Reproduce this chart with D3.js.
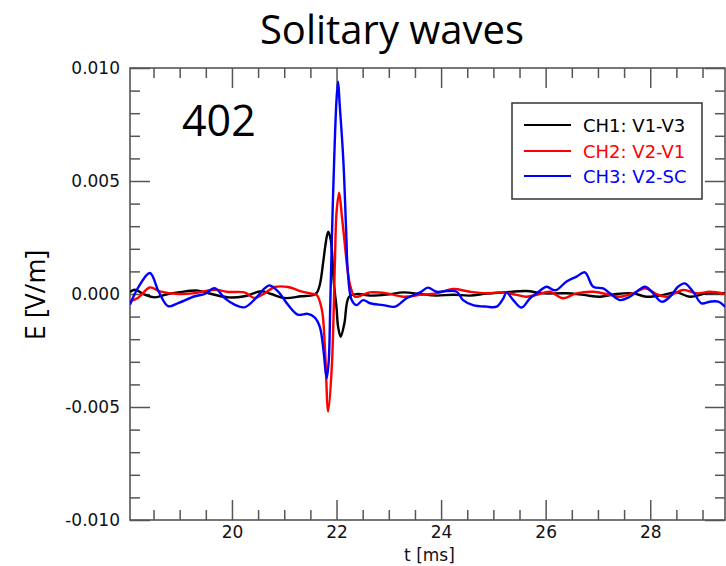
<!DOCTYPE html>
<html>
<head>
<meta charset="utf-8">
<script src="https://cdn.jsdelivr.net/npm/d3@7.9.0/dist/d3.min.js"></script>
<style>
  body { margin: 0; background: #fff; }
</style>
</head>
<body>
<div id="chart"></div>
<script>
// [t (ms), E (V/m)]
const ch1 = [[18.05,0.00009],[18.14,0.00019],[18.33,-0.00003],[18.52,-0.00015],[18.78,0.00000],[18.97,0.00007],[19.35,0.00015],[19.61,0.00000],[19.93,-0.00015],[20.24,-0.00010],[20.56,0.00012],[20.75,0.00000],[21.01,-0.00018],[21.32,-0.00010],[21.55,-0.00005],[21.62,0.00005],[21.68,0.00040],[21.75,0.00150],[21.79,0.00220],[21.84,0.00276],[21.89,0.00239],[21.95,0.00047],[22.00,-0.00060],[22.03,-0.00145],[22.08,-0.00189],[22.15,-0.00130],[22.24,-0.00012],[22.40,0.00000],[22.64,-0.00007],[22.96,-0.00003],[23.28,0.00007],[23.60,0.00000],[23.91,-0.00007],[24.23,-0.00003],[24.55,-0.00007],[24.87,0.00002],[25.19,0.00007],[25.63,0.00013],[25.95,0.00003],[26.40,0.00003],[26.72,-0.00004],[27.04,-0.00012],[27.35,0.00000],[27.67,0.00003],[27.93,-0.00012],[28.25,-0.00004],[28.50,0.00007],[28.76,-0.00012],[29.08,0.00003],[29.43,0.00003]];

const ch2 = [[18.05,-0.00032],[18.20,-0.00018],[18.43,0.00029],[18.62,0.00012],[18.97,0.00000],[19.29,0.00004],[19.67,0.00019],[19.93,0.00009],[20.24,0.00007],[20.43,-0.00018],[20.63,0.00004],[20.82,0.00031],[21.07,0.00031],[21.32,0.00012],[21.55,0.00000],[21.62,-0.00004],[21.72,-0.00070],[21.78,-0.00248],[21.84,-0.00520],[21.91,-0.00320],[21.97,0.00150],[22.00,0.00360],[22.05,0.00448],[22.10,0.00350],[22.15,0.00239],[22.22,0.00090],[22.27,0.00030],[22.35,-0.00012],[22.50,-0.00004],[22.64,0.00007],[22.96,0.00003],[23.28,-0.00012],[23.60,-0.00004],[23.91,0.00003],[24.23,0.00022],[24.55,0.00010],[24.87,0.00003],[25.19,0.00007],[25.44,-0.00004],[25.63,-0.00012],[25.83,-0.00004],[26.08,0.00010],[26.33,-0.00019],[26.59,0.00003],[26.91,0.00010],[27.23,-0.00004],[27.42,-0.00012],[27.67,0.00003],[27.90,0.00025],[28.12,0.00000],[28.31,-0.00012],[28.63,0.00018],[28.89,0.00003],[29.14,0.00010],[29.43,0.00000]];

const ch3 = [[18.05,-0.00047],[18.20,0.00026],[18.43,0.00093],[18.60,0.00010],[18.78,-0.00054],[18.97,-0.00040],[19.29,-0.00010],[19.48,0.00000],[19.67,0.00026],[19.86,-0.00018],[20.05,-0.00047],[20.24,-0.00059],[20.43,-0.00025],[20.63,0.00026],[20.72,0.00038],[20.88,0.00012],[21.07,-0.00047],[21.26,-0.00091],[21.45,-0.00088],[21.58,-0.00103],[21.68,-0.00145],[21.75,-0.00248],[21.81,-0.00373],[21.85,-0.00300],[21.88,-0.00050],[21.91,0.00240],[21.955,0.00593],[22.00,0.00860],[22.03,0.00939],[22.06,0.00840],[22.13,0.00593],[22.19,0.00239],[22.21,0.00120],[22.29,-0.00027],[22.38,-0.00049],[22.51,-0.00027],[22.64,-0.00041],[22.89,-0.00049],[23.12,-0.00056],[23.34,-0.00019],[23.60,0.00007],[23.75,0.00028],[23.91,0.00010],[24.11,0.00013],[24.30,0.00010],[24.42,-0.00027],[24.61,-0.00049],[24.87,-0.00056],[25.06,-0.00056],[25.19,-0.00019],[25.25,0.00007],[25.38,-0.00027],[25.54,-0.00060],[25.70,-0.00019],[25.83,0.00003],[26.02,0.00032],[26.14,0.00018],[26.21,0.00018],[26.40,0.00055],[26.59,0.00077],[26.75,0.00096],[26.91,0.00032],[27.10,0.00025],[27.23,0.00003],[27.42,-0.00027],[27.61,-0.00012],[27.90,0.00032],[28.03,0.00010],[28.22,-0.00034],[28.38,-0.00012],[28.53,0.00032],[28.66,0.00047],[28.82,0.00010],[28.98,-0.00041],[29.14,-0.00034],[29.30,-0.00034],[29.43,-0.00056]];

const seriesNames = ["CH1: V1-V3", "CH2: V2-V1", "CH3: V2-SC"];
const seriesColors = ["#000000", "#ff0000", "#0000ff"];

const xDomain = [18.05, 29.43];
const yDomain = [-0.010, 0.010];
const xMajor = [20, 22, 24, 26, 28];
const xMinor = [18.5, 19, 19.5, 20.5, 21, 21.5, 22.5, 23, 23.5, 24.5, 25, 25.5, 26.5, 27, 27.5, 28.5, 29];
const yMajor = [-0.010, -0.005, 0, 0.005, 0.010];
const yTickLabels = ["-0.010", "-0.005", "0.000", "0.005", "0.010"];
const yMinor = [-0.009, -0.008, -0.007, -0.006, -0.004, -0.003, -0.002, -0.001,
                0.001, 0.002, 0.003, 0.004, 0.006, 0.007, 0.008, 0.009];

const width = 726, height = 566;
const plotLeft = 130, plotRight = 725, plotTop = 68, plotBottom = 520;

const svg = d3.select("#chart").append("svg")
    .attr("width", width)
    .attr("height", height);

const x = d3.scaleLinear().domain(xDomain).range([plotLeft, plotRight]);
const y = d3.scaleLinear().domain(yDomain).range([plotBottom, plotTop]);

// clip the traces to the frame
svg.append("clipPath").attr("id", "plot-clip")
  .append("rect")
    .attr("x", plotLeft).attr("y", plotTop)
    .attr("width", plotRight - plotLeft).attr("height", plotBottom - plotTop);

const axisColor = "#555";
const tickFont = "DejaVu Sans, sans-serif";

function styleAxis(g) {
    g.select(".domain").remove();
    g.selectAll(".tick line").attr("stroke", axisColor).attr("stroke-width", 1.5);
    g.selectAll(".tick text")
        .attr("fill", "#111")
        .style("font-family", tickFont)
        .style("font-size", "17px");
}

const yLabelOf = d => yTickLabels[yMajor.indexOf(d)];

// major ticks (inward)
svg.append("g").attr("transform", `translate(0,${plotBottom})`)
    .call(d3.axisBottom(x).tickValues(xMajor).tickSizeInner(-20).tickSizeOuter(0).tickPadding(6).tickFormat(d3.format("d")))
    .call(styleAxis);
svg.append("g").attr("transform", `translate(0,${plotTop})`)
    .call(d3.axisTop(x).tickValues(xMajor).tickSizeInner(-20).tickSizeOuter(0).tickFormat(""))
    .call(styleAxis);
svg.append("g").attr("transform", `translate(${plotLeft},0)`)
    .call(d3.axisLeft(y).tickValues(yMajor).tickSizeInner(-20).tickSizeOuter(0).tickPadding(10).tickFormat(yLabelOf))
    .call(styleAxis);
svg.append("g").attr("transform", `translate(${plotRight},0)`)
    .call(d3.axisRight(y).tickValues(yMajor).tickSizeInner(-20).tickSizeOuter(0).tickFormat(""))
    .call(styleAxis);

// minor ticks
svg.append("g").attr("transform", `translate(0,${plotBottom})`)
    .call(d3.axisBottom(x).tickValues(xMinor).tickSizeInner(-10).tickSizeOuter(0).tickFormat(""))
    .call(styleAxis);
svg.append("g").attr("transform", `translate(0,${plotTop})`)
    .call(d3.axisTop(x).tickValues(xMinor).tickSizeInner(-10).tickSizeOuter(0).tickFormat(""))
    .call(styleAxis);
svg.append("g").attr("transform", `translate(${plotLeft},0)`)
    .call(d3.axisLeft(y).tickValues(yMinor).tickSizeInner(-10).tickSizeOuter(0).tickFormat(""))
    .call(styleAxis);
svg.append("g").attr("transform", `translate(${plotRight},0)`)
    .call(d3.axisRight(y).tickValues(yMinor).tickSizeInner(-10).tickSizeOuter(0).tickFormat(""))
    .call(styleAxis);

// frame
svg.append("rect")
    .attr("x", plotLeft).attr("y", plotTop)
    .attr("width", plotRight - plotLeft).attr("height", plotBottom - plotTop)
    .attr("fill", "none")
    .attr("stroke", axisColor)
    .attr("stroke-width", 1.6);

// traces
const line = d3.line()
    .x(d => x(d[0]))
    .y(d => y(d[1]))
    .curve(d3.curveCatmullRom.alpha(0.5));

const traces = svg.append("g").attr("clip-path", "url(#plot-clip)");
[ch1, ch2, ch3].forEach((data, i) => {
    traces.append("path")
        .datum(data)
        .attr("fill", "none")
        .attr("stroke", seriesColors[i])
        .attr("stroke-width", 2.4)
        .attr("stroke-linejoin", "round")
        .attr("d", line);
});

// texts
svg.append("text")
    .attr("x", 392).attr("y", 44)
    .attr("text-anchor", "middle")
    .style("font-family", "Open Sans, sans-serif")
    .style("font-size", "40px")
    .text("Solitary waves");

svg.append("text")
    .attr("x", 182).attr("y", 136)
    .style("font-family", "Open Sans, sans-serif")
    .style("font-size", "43px")
    .text("402");

svg.append("text")
    .attr("transform", "translate(45,295) rotate(-90)")
    .attr("text-anchor", "middle")
    .style("font-family", "Open Sans, sans-serif")
    .style("font-size", "27px")
    .text("E [V/m]");

svg.append("text")
    .attr("x", (plotLeft + plotRight) / 2 + 2).attr("y", 561)
    .attr("text-anchor", "middle")
    .style("font-family", tickFont)
    .style("font-size", "17px")
    .attr("fill", "#111")
    .text("t [ms]");

// legend
const legend = svg.append("g");
legend.append("rect")
    .attr("x", 512).attr("y", 103)
    .attr("width", 190).attr("height", 96)
    .attr("fill", "#fff")
    .attr("stroke", "#333")
    .attr("stroke-width", 1.5);

const rowY = [125, 151, 176];
seriesNames.forEach((name, i) => {
    legend.append("line")
        .attr("x1", 524).attr("x2", 571)
        .attr("y1", rowY[i]).attr("y2", rowY[i])
        .attr("stroke", seriesColors[i])
        .attr("stroke-width", 2.2);
    legend.append("text")
        .attr("x", 583).attr("y", rowY[i] + 6.5)
        .attr("fill", seriesColors[i])
        .style("font-family", tickFont)
        .style("font-size", "18px")
        .text(name);
});
</script>
</body>
</html>
